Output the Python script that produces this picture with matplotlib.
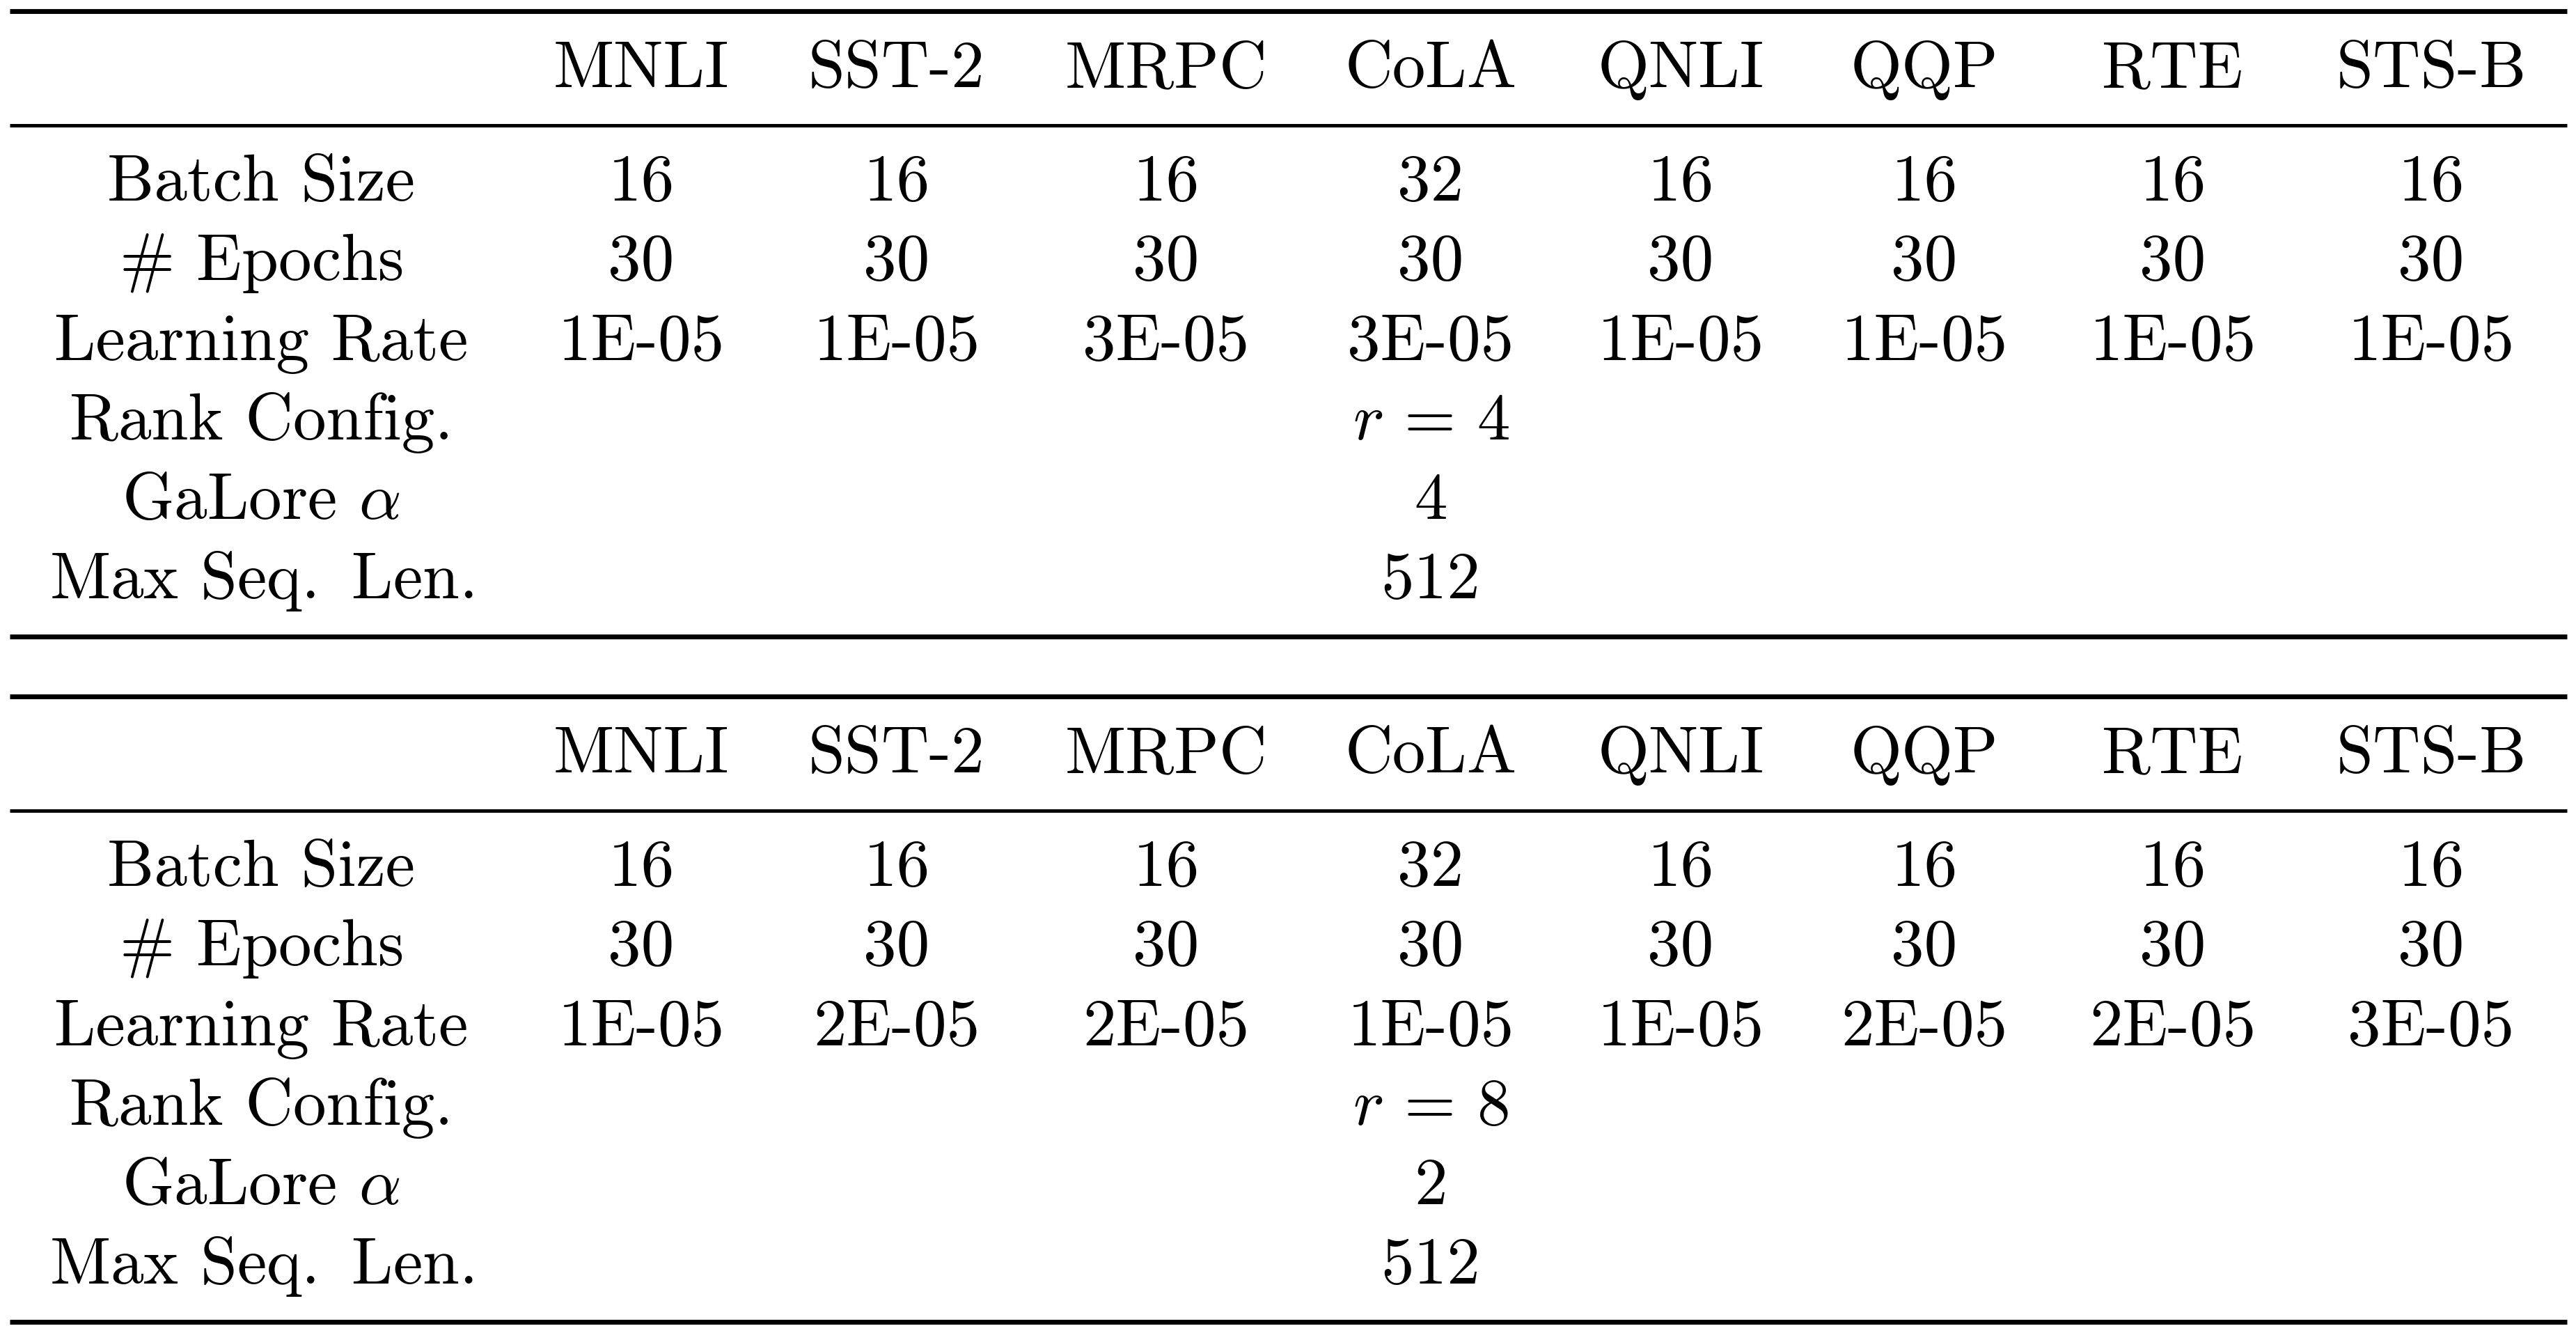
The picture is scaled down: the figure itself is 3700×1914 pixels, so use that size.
import numpy as np
import matplotlib.pyplot as plt

plt.rcParams['font.family'] = ['cmr10', 'DejaVu Serif']
plt.rcParams['mathtext.fontset'] = 'cm'

# table contents
tasks = ["MNLI", "SST-2", "MRPC", "CoLA", "QNLI", "QQP", "RTE", "STS-B"]
row_labels = ["Batch Size", r"$\#$ Epochs", "Learning Rate", "Rank Config.",
              r"GaLore $\alpha$", r"Max Seq.$\,$ Len."]

batch_size_1 = [16, 16, 16, 32, 16, 16, 16, 16]
epochs_1 = [30, 30, 30, 30, 30, 30, 30, 30]
lr_1 = ["1E-05", "1E-05", "3E-05", "3E-05", "1E-05", "1E-05", "1E-05", "1E-05"]
rank_1 = 4
alpha_1 = 4
max_len_1 = 512

batch_size_2 = [16, 16, 16, 32, 16, 16, 16, 16]
epochs_2 = [30, 30, 30, 30, 30, 30, 30, 30]
lr_2 = ["1E-05", "2E-05", "2E-05", "1E-05", "1E-05", "2E-05", "2E-05", "3E-05"]
rank_2 = 8
alpha_2 = 2
max_len_2 = 512

# layout (pixels)
W, H = 3700, 1914
FS = 68.5
label_x = 375
col_x = [921, 1288, 1675, 2055, 2414, 2764, 3121, 3492]
x0, x1 = 14, 3687
heavy = 5.0
light = 3.6

fig = plt.figure(figsize=(W / 100, H / 100), dpi=100)
ax = fig.add_axes([0, 0, 1, 1])
ax.set_xlim(0, W)
ax.set_ylim(H, 0)
ax.axis('off')


def draw_table(y_off, bs, ep, lr, rank, alpha, max_len):
    # rules
    ax.hlines(16 + y_off, x0, x1, color='black', lw=heavy)
    ax.hlines(180 + y_off, x0, x1, color='black', lw=light)
    ax.hlines(914 + y_off, x0, x1, color='black', lw=heavy)

    # header
    for x, t in zip(col_x, tasks):
        ax.text(x, 125 + y_off, t, ha='center', va='baseline', fontsize=FS)

    base = [288, 402, 517, 631, 745, 859]
    for y, lab in zip(base, row_labels):
        ax.text(label_x, y + y_off, lab, ha='center', va='baseline', fontsize=FS)

    rows = [[str(v) for v in bs], [str(v) for v in ep], lr]
    for y, vals in zip(base[:3], rows):
        for x, v in zip(col_x, vals):
            ax.text(x, y + y_off, v, ha='center', va='baseline', fontsize=FS)

    # shared settings sit in the CoLA column
    cx = col_x[3]
    ax.text(cx, base[3] + y_off, r"$r\,=\,%d$" % rank, ha='center', va='baseline', fontsize=FS)
    ax.text(cx, base[4] + y_off, str(alpha), ha='center', va='baseline', fontsize=FS)
    ax.text(cx, base[5] + y_off, str(max_len), ha='center', va='baseline', fontsize=FS)


draw_table(0, batch_size_1, epochs_1, lr_1, rank_1, alpha_1, max_len_1)
draw_table(984, batch_size_2, epochs_2, lr_2, rank_2, alpha_2, max_len_2)

fig.savefig("out.png", dpi=100, facecolor='white')
